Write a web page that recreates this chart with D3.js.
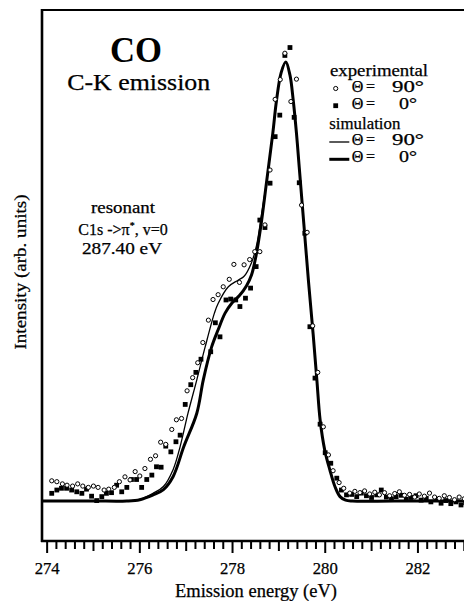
<!DOCTYPE html>
<html><head><meta charset="utf-8">
<script src="https://cdn.jsdelivr.net/npm/d3@7"></script>
<style>
html,body{margin:0;padding:0;background:#fff;}
svg{display:block;}
text{fill:#000;}
</style></head>
<body>
<script>
// ---- data ----
const majorTicks = [274, 276, 278, 280, 282];
const tickLabels = ["274", "276", "278", "280", "282"];
const midTicks = [275, 277, 279, 281, 283];

// simulation, Theta = 0 deg (thick)
const sim0E = [273.9,275.0,275.73,276.01,276.30,276.52,276.73,276.96,277.24,277.38,277.56,277.70,277.85,277.99,278.16,278.31,278.42,278.52,278.62,278.75,278.88,278.96,279.06,279.16,279.25,279.32,279.39,279.45,279.55,279.65,279.75,279.83,279.90,280.00,280.11,280.22,280.33,280.45,280.60,281.5,283.2];
const sim0V = [0,0,0,0.3,1.4,2.6,5.6,12.4,20.0,27.6,35.1,39.0,42.8,45.0,46.8,49.0,51.5,56.0,62.5,73.1,83.8,91.3,97.6,100,97.0,91.3,83.8,76.0,63.0,50.0,38.0,27.6,18.5,11.6,7.1,3.3,1.0,0.2,0,0,0];

// simulation, Theta = 90 deg (thin)
const sim90E = [273.9,275.0,275.70,276.01,276.30,276.52,276.73,276.88,277.05,277.24,277.42,277.62,277.70,277.92,278.13,278.26,278.42,278.53,278.64,278.75,278.88,278.96,279.06,279.16,279.25,279.32,279.39,279.45,279.55,279.65,279.75,279.83,279.90,280.00,280.11,280.22,280.33,280.45,280.60,281.5,283.2];
const sim90V = [0,0,0,0.4,1.8,3.3,7.2,12.4,20.0,27.6,35.1,42.8,45.0,48.8,50.3,51.2,54.3,58.3,65.5,73.1,83.8,91.3,97.6,100,97.0,91.3,83.8,76.0,63.0,50.0,38.0,27.6,18.5,11.6,7.1,3.3,1.0,0.2,0,0,0];

// experimental, Theta = 90 deg (open circles)
const exp90E = [274.11,274.22,274.34,274.44,274.56,274.67,274.78,274.90,275.01,275.11,275.24,275.34,275.46,275.57,275.69,275.80,275.91,276.01,276.12,276.24,276.35,276.46,276.57,276.70,276.80,276.91,277.03,277.15,277.26,277.37,277.49,277.59,277.70,277.81,277.94,278.04,278.16,278.26,278.38,278.49,278.60,278.71,278.82,278.93,279.04,279.14,279.27,279.39,279.50,279.62,279.74,279.85,279.97,280.08,280.18,280.31,280.41,280.54,280.65,280.76,280.86,280.97,281.08,281.18,281.29,281.40,281.51,281.61,281.72,281.83,281.94,282.04,282.15,282.26,282.37,282.47,282.58,282.69,282.80,282.90,283.01];
const exp90V = [4.6,4.4,3.9,3.6,3.4,3.9,3.4,3.1,3.4,3.1,2.5,2.7,3.1,4.4,5.5,4.8,6.7,5.7,7.4,9.5,10.3,13.4,12.9,16.3,18.5,18.8,25.1,28.1,31.5,36.1,41.2,45.9,47.0,48.8,50.5,53.9,49.8,53.8,55.0,56.8,56.8,62.9,75.4,91.5,96.0,102.0,91.0,96.1,67.4,61.2,39.9,29.3,16.9,10.5,6.9,4.2,2.9,1.8,2.2,1.9,2.3,1.6,2.0,1.4,1.9,1.2,1.7,2.1,1.3,1.5,0.9,1.6,1.1,1.8,0.9,0.6,1.2,0.8,0.3,0.9,0.5];

// experimental, Theta = 0 deg (filled squares)
const exp0E = [274.11,274.22,274.32,274.43,274.54,274.65,274.76,274.86,274.97,275.08,275.19,275.29,275.40,275.51,275.62,275.73,275.83,275.94,276.05,276.16,276.27,276.37,276.47,276.57,276.68,276.79,276.88,276.99,277.11,277.22,277.33,277.54,277.64,277.74,277.87,277.97,278.08,278.17,278.29,278.40,278.52,278.60,278.71,278.82,278.93,279.03,279.14,279.25,279.34,279.45,279.57,279.68,279.79,279.90,280.01,280.13,280.26,280.36,280.47,280.58,280.69,280.79,280.90,281.01,281.12,281.22,281.33,281.44,281.54,281.65,281.76,281.86,281.97,282.08,282.19,282.29,282.40,282.51,282.61,282.72,282.83,282.94,283.04];
const exp0V = [1.75,2.5,2.9,2.9,2.5,2.1,1.75,2.7,1.1,0.1,1.0,1.75,1.9,3.6,2.1,3.1,4.9,4.9,3.1,4.9,5.9,7.8,7.7,12.5,11.2,13.5,15.0,22.0,26.5,29.3,32.3,34.0,40.6,37.4,45.8,46.0,45.8,44.3,46.2,48.5,53.4,64.0,62.3,72.4,83.0,87.9,101.5,103.3,87.4,72.5,61.0,39.7,28.0,17.5,11.0,8.6,5.2,2.5,1.4,1.5,1.0,1.8,1.2,0.8,1.4,2.5,0.9,0.5,1.0,1.3,0.4,0.8,1.2,0.2,0.6,-0.2,0.4,-0.5,0.1,-0.6,-0.2,-0.9,-0.4];

// ---- drawing ----
const W = 464, H = 601;
const FONT = '"Liberation Serif", "Times New Roman", serif';
const svg = d3.select("body").append("svg").attr("width", W).attr("height", H);

const x = d3.scaleLinear().domain([273.9, 283.2]).range([42, 42 + 9.3 * 46.35]);
const y = d3.scaleLinear().domain([-9.11, 111.85]).range([541, 10]);

svg.append("clipPath").attr("id", "clip").append("rect")
  .attr("x", 42).attr("y", 10).attr("width", W - 42).attr("height", 531);

const plot = svg.append("g").attr("clip-path", "url(#clip)");

const line = d3.line().x(d => x(d[0])).y(d => y(d[1])).curve(d3.curveCatmullRom.alpha(0.5));

plot.append("path").datum(d3.zip(sim90E, sim90V)).attr("d", line)
  .attr("fill", "none").attr("stroke", "#000").attr("stroke-width", 1.3);
plot.append("path").datum(d3.zip(sim0E, sim0V)).attr("d", line)
  .attr("fill", "none").attr("stroke", "#000").attr("stroke-width", 3);

plot.selectAll("rect.sq").data(d3.zip(exp0E, exp0V)).join("rect").attr("class", "sq")
  .attr("x", d => x(d[0]) - 2.4).attr("y", d => y(d[1]) - 2.4)
  .attr("width", 4.8).attr("height", 4.8).attr("fill", "#000");

plot.selectAll("circle.ci").data(d3.zip(exp90E, exp90V)).join("circle").attr("class", "ci")
  .attr("cx", d => x(d[0])).attr("cy", d => y(d[1])).attr("r", 2.1)
  .attr("fill", "#fff").attr("stroke", "#000").attr("stroke-width", 1);

// frame
const x0 = x.range()[0];
svg.append("line").attr("x1", x0).attr("x2", W).attr("y1", 10).attr("y2", 10)
  .attr("stroke", "#000").attr("stroke-width", 2);
svg.append("line").attr("x1", x0).attr("x2", x0).attr("y1", 9).attr("y2", 542)
  .attr("stroke", "#000").attr("stroke-width", 2.6);

// x axis
const minorTicks = d3.range(274, 283.21, 0.2).map(v => +v.toFixed(1))
  .filter(v => !majorTicks.includes(v) && !midTicks.includes(v));
const gx = svg.append("g").attr("transform", "translate(0,541)");
gx.append("g").call(d3.axisBottom(x).tickValues(minorTicks).tickSize(8).tickFormat(""))
  .call(g => g.select(".domain").remove());
gx.append("g").call(d3.axisBottom(x).tickValues(midTicks).tickSize(10).tickFormat(""))
  .call(g => g.select(".domain").remove());
gx.append("g").call(d3.axisBottom(x).tickValues(majorTicks).tickSize(12).tickPadding(10)
    .tickFormat((d, i) => tickLabels[i]))
  .call(g => g.select(".domain").remove())
  .call(g => g.selectAll("text").style("font-family", FONT).attr("font-size", 16)
    .attr("stroke", "#000").attr("stroke-width", 0.25)
    .attr("textLength", 25).attr("lengthAdjust", "spacingAndGlyphs"));
gx.selectAll(".tick line").attr("stroke-width", 2);
svg.append("line").attr("x1", x0 - 1).attr("x2", W).attr("y1", 541).attr("y2", 541)
  .attr("stroke", "#000").attr("stroke-width", 2.4);

function txt(s, xx, yy, size, len, anchor) {
  const t = svg.append("text").attr("x", xx).attr("y", yy).attr("font-size", size)
    .style("font-family", FONT).attr("stroke", "#000").attr("stroke-width", 0.25)
    .attr("text-anchor", anchor || "start").text(s);
  if (len) t.attr("textLength", len).attr("lengthAdjust", "spacingAndGlyphs");
  return t;
}

// axis titles
txt("Emission energy (eV)", 256, 597, 18, 162, "middle");
svg.append("text").attr("transform", "translate(26,272) rotate(-90)")
  .style("font-family", FONT).attr("stroke", "#000").attr("stroke-width", 0.25)
  .attr("text-anchor", "middle").attr("font-size", 17)
  .attr("textLength", 155).attr("lengthAdjust", "spacingAndGlyphs")
  .text("Intensity (arb. units)");

// titles
txt("CO", 136, 61.5, 35, 52, "middle").attr("font-weight", "bold").attr("stroke-width", 0);
txt("C-K emission", 138.7, 90, 23, 143, "middle");

// annotation
txt("resonant", 123, 213, 16, 64, "middle");
const ann = svg.append("text").attr("x", 123).attr("y", 235).attr("font-size", 16)
  .style("font-family", FONT).attr("stroke", "#000").attr("stroke-width", 0.25)
  .attr("text-anchor", "middle");
ann.append("tspan").text("C1s ->π");
ann.append("tspan").attr("dy", -6).attr("font-size", 10).text("*");
ann.append("tspan").attr("dy", 6).text(", v=0");
txt("287.40 eV", 122, 254, 16, 80, "middle");

// legend
const LF = 16;
txt("experimental", 330, 75.7, LF, 98);
svg.append("circle").attr("cx", 335.7).attr("cy", 88.5).attr("r", 2.1)
  .attr("fill", "#fff").attr("stroke", "#000").attr("stroke-width", 1);
txt("Θ", 351.7, 91.5, LF);
txt("=", 366, 91.5, LF);
txt("90°", 392, 91.5, LF, 32);
svg.append("rect").attr("x", 333.3).attr("y", 103.3).attr("width", 4.8).attr("height", 4.8).attr("fill", "#000");
txt("Θ", 351.7, 108.5, LF);
txt("=", 366, 108.5, LF);
txt("0°", 399, 108.5, LF, 18);
txt("simulation", 329.3, 128.5, LF, 71);
svg.append("line").attr("x1", 329.3).attr("x2", 349.3).attr("y1", 142).attr("y2", 142)
  .attr("stroke", "#000").attr("stroke-width", 1.3);
txt("Θ", 351.7, 144.5, LF);
txt("=", 366, 144.5, LF);
txt("90°", 392, 144.5, LF, 32);
svg.append("line").attr("x1", 329.3).attr("x2", 349.3).attr("y1", 159.3).attr("y2", 159.3)
  .attr("stroke", "#000").attr("stroke-width", 3);
txt("Θ", 351.7, 161.7, LF);
txt("=", 366, 161.7, LF);
txt("0°", 399, 161.7, LF, 18);
</script>
</body></html>
